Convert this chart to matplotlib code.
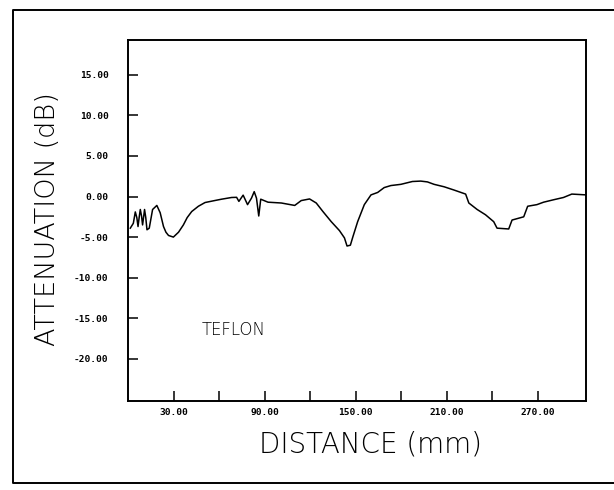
import matplotlib
matplotlib.use("Agg")
from matplotlib import pyplot as plt
from matplotlib.lines import Line2D
from matplotlib.ticker import FixedLocator, FixedFormatter

# distance (mm) and attenuation (dB)
distance = [1.5, 3.5, 4.8, 5.8, 6.6, 7.4, 8.1, 8.9, 9.6, 10.3, 10.9, 11.7, 12.5, 14.0,
            16.2, 19.0, 21.2, 23.4, 25.0, 26.7, 29.9, 33.3, 36.5, 39.0, 42.0, 46.4, 50.8, 57.1,
            61.7, 68.3, 71.6, 73.1, 75.9, 78.8, 81.4, 83.2, 84.7, 86.2, 87.5, 92.3,
            101.1, 109.9, 114.2, 119.7, 124.1, 128.5, 134.0, 139.4, 142.7, 144.4,
            146.6, 148.2, 151.4, 155.8, 160.2, 164.6, 168.9, 173.3, 179.9, 187.5,
            193.0, 197.4, 201.8, 208.4, 214.9, 222.6, 224.7, 230.2, 235.7, 241.1,
            243.3, 251.0, 253.2, 260.9, 263.5, 269.6, 274.0, 280.6, 287.1, 292.6, 302.0]
attenuation = [-3.9, -3.3, -1.9, -2.6, -3.7, -2.5, -1.6, -2.4, -3.5, -2.5, -1.6, -2.6, -4.1, -3.9,
               -1.6, -1.1, -2.0, -3.7, -4.4, -4.8, -5.0, -4.4, -3.5, -2.6, -1.85, -1.2, -0.74, -0.5,
               -0.33, -0.12, -0.1, -0.6, 0.17, -1.0, -0.2, 0.6, -0.2, -2.4, -0.33, -0.7,
               -0.8, -1.1, -0.5, -0.3, -0.8, -1.85, -3.1, -4.2, -5.1, -6.1,
               -6.0, -5.0, -3.1, -1.0, 0.2, 0.5, 1.1, 1.35, 1.5, 1.85,
               1.9, 1.8, 1.5, 1.2, 0.8, 0.3, -0.8, -1.6, -2.25, -3.1,
               -3.9, -4.0, -2.9, -2.5, -1.2, -1.0, -0.7, -0.4, -0.12, 0.3, 0.2]

xticks = [30, 60, 90, 120, 150, 180, 210, 240, 270]
xticklabels = ["30.00", "", "90.00", "", "150.00", "", "210.00", "", "270.00"]
yticks = [-20, -15, -10, -5, 0, 5, 10, 15]
yticklabels = ["-20.00", "-15.00", "-10.00", "-5.00", "0.00", "5.00", "10.00", "15.00"]

fig = plt.figure(figsize=(6.14, 4.9), dpi=100)
ax = fig.add_axes([0.2085, 0.1816, 0.746, 0.737])

ax.plot(distance, attenuation, color="black", lw=1.1)
ax.set_xlim(0, 302)
ax.set_ylim(-25.2, 19.3)

ax.xaxis.set_major_locator(FixedLocator(xticks))
ax.xaxis.set_major_formatter(FixedFormatter(xticklabels))
ax.yaxis.set_major_locator(FixedLocator(yticks))
ax.yaxis.set_major_formatter(FixedFormatter(yticklabels))
ax.tick_params(direction="in", length=7, width=1.1, color="black")
ax.tick_params(axis="x", pad=5)
ax.tick_params(axis="y", pad=14)
for lab in ax.get_xticklabels() + ax.get_yticklabels():
    lab.set_fontfamily("DejaVu Sans Mono")
    lab.set_fontweight("bold")
    lab.set_fontsize(6.8)
for sp in ax.spines.values():
    sp.set_linewidth(1.4)

ax.text(48.5, -16.4, "TEFLON", fontsize=12, fontweight="light", color="black",
        va="center", ha="left")

fig.text(0.078, 0.553, "ATTENUATION (dB)", rotation=90, fontsize=19.5, fontweight="light",
         color="black", ha="center", va="center")
fig.text(0.604, 0.092, "DISTANCE (mm)", fontsize=20, fontweight="light",
         color="black", ha="center", va="center")

# outer frame of the page
fx = [1.01, 13/614, 13/614, 1.01]
fy = [1 - 10/490, 1 - 10/490, 1 - 483/490, 1 - 483/490]
fig.add_artist(Line2D(fx, fy, transform=fig.transFigure, color="black", lw=1.4))

fig.savefig("out.png", dpi=100)
